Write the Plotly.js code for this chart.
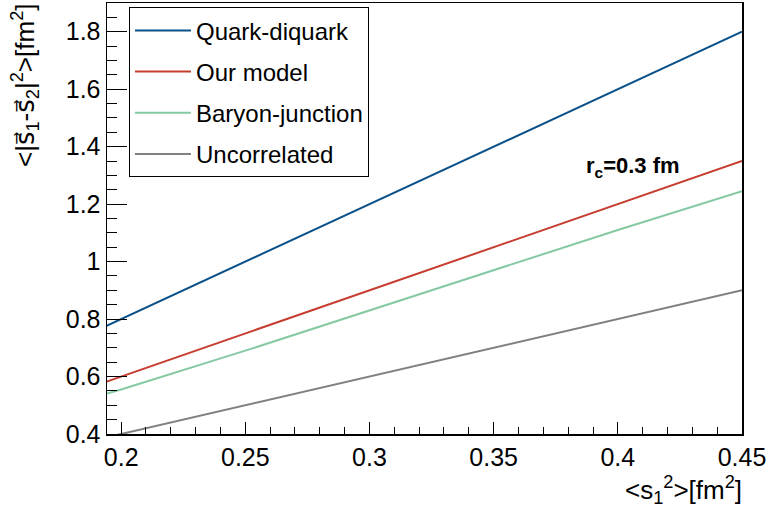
<!DOCTYPE html>
<html>
<head>
<meta charset="utf-8">
<script src="https://cdn.plot.ly/plotly-3.0.1.min.js"></script>
<style>html,body{margin:0;padding:0;background:#fff}#plot{width:767px;height:518px}</style>
</head>
<body>
<div id="plot"></div>
<script>
// s1^2 values (fm^2)
const s1sq = [0.19, 0.2, 0.25, 0.3, 0.35, 0.4, 0.45];
// <|s1 - s2|^2> values (fm^2)
const quarkDiquark   = [0.76, 0.80, 1.00, 1.20, 1.40, 1.60, 1.80];
const ourModel       = [0.57, 0.60, 0.75, 0.90, 1.05, 1.20, 1.35];
const baryonJunction = [0.53, 0.555, 0.69, 0.83, 0.97, 1.11, 1.245];
const uncorrelated   = [0.38, 0.40, 0.50, 0.60, 0.70, 0.80, 0.90];
const seriesNames = ["Quark-diquark", "Our model", "Baryon-junction", "Uncorrelated"];
const seriesColors = ["#0b5189", "#c63d30", "#85c9a2", "#808080"];
const seriesValues = [quarkDiquark, ourModel, baryonJunction, uncorrelated];
const xTickVals = [0.2, 0.25, 0.3, 0.35, 0.4, 0.45];
const xTickText = ["0.2", "0.25", "0.3", "0.35", "0.4", "0.45"];
const yTickVals = [0.4, 0.6, 0.8, 1.0, 1.2, 1.4, 1.6, 1.8];
const yTickText = ["0.4", "0.6", "0.8", "1", "1.2", "1.4", "1.6", "1.8"];

const FONT = "Liberation Sans, Arial, Helvetica, sans-serif";
const VEC = '<span style="font-family:DejaVu Sans">s\u20D7</span>';

const traces = seriesValues.map((v, i) => ({
  x: s1sq, y: v, type: "scatter", mode: "lines",
  name: seriesNames[i], legendgroup: "g" + i,
  line: {color: seriesColors[i], width: 2}
}));

const layout = {
  width: 767, height: 518,
  margin: {l: 107, r: 25, t: 3, b: 84},
  paper_bgcolor: "#fff", plot_bgcolor: "#fff",
  font: {family: FONT, size: 25, color: "#000"},
  showlegend: true,
  legend: {
    x: 0.0346, y: 0.99, xanchor: "left", yanchor: "top",
    bordercolor: "#000", borderwidth: 1, bgcolor: "#fff",
    font: {family: FONT, size: 24, color: "#000"},
    tracegroupgap: 7, itemwidth: 56
  },
  xaxis: {
    range: [0.1943, 0.45], showgrid: false, zeroline: false,
    showline: true, linecolor: "#000", linewidth: 1.5, mirror: true,
    ticks: "inside", ticklen: 12, tickwidth: 1, tickcolor: "#000",
    tickvals: xTickVals, ticktext: xTickText,
    minor: {ticks: "inside", ticklen: 7, dtick: 0.01, tick0: 0.2, tickcolor: "#000", tickwidth: 1, showgrid: false},
    tickfont: {family: FONT, size: 25}
  },
  yaxis: {
    range: [0.4, 1.9], showgrid: false, zeroline: false,
    showline: true, linecolor: "#000", linewidth: 1.5, mirror: true,
    ticks: "inside", ticklen: 20, tickwidth: 1, tickcolor: "#000",
    tickvals: yTickVals, ticktext: yTickText,
    minor: {ticks: "inside", ticklen: 10, dtick: 0.05, tick0: 0.4, tickcolor: "#000", tickwidth: 1, showgrid: false},
    tickfont: {family: FONT, size: 25}
  },
  annotations: [
    {
      text: "&lt;|" + VEC + "<sub>1</sub>-" + VEC + "<sub>2</sub>|<sup>2</sup>&gt;[fm<sup>2</sup>]",
      xref: "paper", yref: "paper", x: 0, y: 1, xanchor: "center", yanchor: "top",
      xshift: -82, yshift: 2, textangle: -90, showarrow: false,
      font: {family: FONT, size: 26, color: "#000"}
    },
    {
      text: "&lt;s<sub>1</sub><sup>2</sup>&gt;[fm<sup>2</sup>]",
      xref: "paper", yref: "paper", x: 1, y: 0, xanchor: "right", yanchor: "middle",
      xshift: 2, yshift: -56, showarrow: false,
      font: {family: FONT, size: 26, color: "#000"}
    },
    {
      text: "<b>r<sub>c</sub>=0.3 fm</b>",
      xref: "x", yref: "y", x: 0.406, y: 1.33, xanchor: "center", yanchor: "middle",
      showarrow: false, font: {family: FONT, size: 22, color: "#000"}
    }
  ]
};

Plotly.newPlot("plot", traces, layout, {displayModeBar: false, staticPlot: true});
</script>
</body>
</html>
